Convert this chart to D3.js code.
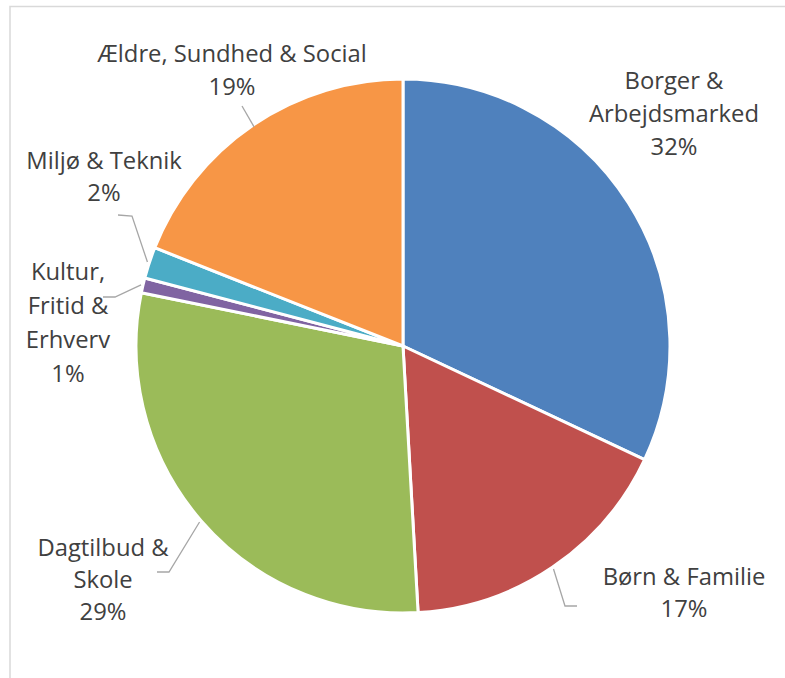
<!DOCTYPE html>
<html>
<head>
<meta charset="utf-8">
<script src="https://cdn.jsdelivr.net/npm/d3@7"></script>
<style>
  html, body { margin: 0; padding: 0; background: #fff; }
  svg { display: block; }
</style>
</head>
<body>
<svg id="chart" width="785" height="678"></svg>
<script>
// Budget shares per committee (percent)
const categories = [
  "Borger & Arbejdsmarked",
  "Børn & Familie",
  "Dagtilbud & Skole",
  "Kultur, Fritid & Erhverv",
  "Miljø & Teknik",
  "Ældre, Sundhed & Social"
];
const shares = [32.0, 17.1, 29.1, 0.9, 1.9, 19.0];
const colors = ["#4F81BD", "#C0504D", "#9BBB59", "#8064A2", "#4BACC6", "#F79646"];

// Label text broken into lines as they appear next to each slice
const labelLines = [
  ["Borger &", "Arbejdsmarked"],
  ["Børn & Familie"],
  ["Dagtilbud &", "Skole"],
  ["Kultur,", "Fritid &", "Erhverv"],
  ["Miljø & Teknik"],
  ["Ældre, Sundhed & Social"]
];
// Label anchor (centre x, first baseline y, line height) for each slice
const labelPos = [
  { x: 674, y: 89, lh: 33 },
  { x: 684, y: 585, lh: 32 },
  { x: 103, y: 556, lh: 32 },
  { x: 68,  y: 280, lh: 34 },
  { x: 104, y: 169, lh: 32 },
  { x: 232, y: 62,  lh: 33 }
];
// Leader-line elbows (label end, bend)
const leaders = [
  null,
  [[577, 606], [565, 606]],
  [[157, 572], [169, 572]],
  [[103, 297], [115, 297]],
  [[118, 215], [132, 216]],
  [[242, 106], [242, 106]]
];

const svg = d3.select("#chart");

// Plot-area frame
svg.append("path")
  .attr("d", "M10,700 V6.5 H800")
  .attr("fill", "none")
  .attr("stroke", "#d9d9d9")
  .attr("stroke-width", 1.5);

const cx = 403, cy = 346, r = 267;
const total = d3.sum(shares);

const pie = d3.pie().sort(null).value(d => d)(shares);
const arc = d3.arc().innerRadius(0).outerRadius(r);

const g = svg.append("g").attr("transform", `translate(${cx},${cy})`);

g.selectAll("path.slice")
  .data(pie)
  .join("path")
  .attr("class", "slice")
  .attr("d", arc)
  .attr("fill", (d, i) => colors[i])
  .attr("stroke", "#fff")
  .attr("stroke-width", 3)
  .attr("stroke-linejoin", "round");

// Leader lines from label elbow to slice rim (mid-angle)
pie.forEach((d, i) => {
  const L = leaders[i];
  if (!L) return;
  const a = (d.startAngle + d.endAngle) / 2;
  const rr = i === 5 ? r - 2 : r + 2;
  const ex = cx + Math.sin(a) * rr, ey = cy - Math.cos(a) * rr;
  svg.append("path")
    .attr("d", d3.line()([L[0], L[1], [ex, ey]]))
    .attr("fill", "none")
    .attr("stroke", "#a6a6a6")
    .attr("stroke-width", 1.3);
});

// Category labels with rounded percentage
const labels = svg.append("g")
  .attr("font-family", "'Open Sans', 'Noto Sans', sans-serif")
  .attr("font-size", 23.8)
  .attr("fill", "#404040")
  .attr("text-anchor", "middle");

categories.forEach((c, i) => {
  const p = labelPos[i];
  const lines = labelLines[i].concat([Math.round(shares[i] / total * 100) + "%"]);
  const t = labels.append("text").attr("x", p.x).attr("y", p.y);
  lines.forEach((ln, j) => {
    t.append("tspan").attr("x", p.x).attr("dy", j === 0 ? 0 : p.lh).text(ln);
  });
});
</script>
</body>
</html>
